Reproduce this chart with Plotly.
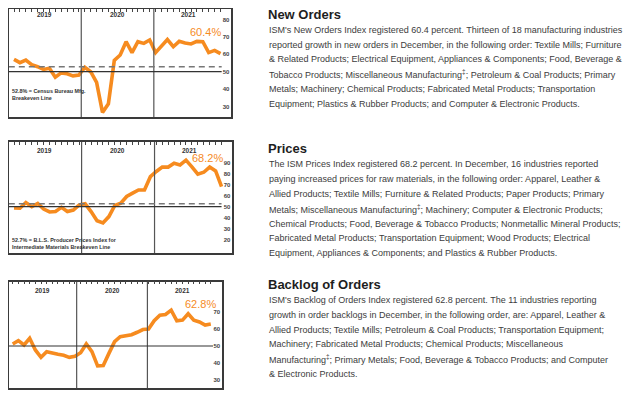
import plotly.graph_objects as go

# ---------------- data ----------------
months = list(range(36))  # Jan 2019 .. Dec 2021
years = ["2019", "2020", "2021"]

new_orders = [57.1, 55.2, 56.7, 54.0, 52.9, 51.3, 52.0, 46.8, 49.3, 48.8, 47.6, 48.1,
              52.5, 50.0, 43.8, 26.5, 31.5, 56.5, 59.6, 67.3, 61.0, 67.3, 66.3, 68.3,
              61.0, 64.4, 68.5, 64.4, 67.5, 66.5, 66.0, 67.5, 67.3, 61.0, 62.3, 60.4]

prices = [48.8, 48.6, 53.8, 50.0, 53.0, 47.9, 45.2, 45.7, 49.4, 45.6, 47.0, 51.6,
          52.6, 45.6, 37.2, 35.2, 41.0, 51.2, 53.2, 59.3, 62.3, 65.2, 65.2, 77.3,
          82.0, 86.0, 86.0, 89.5, 88.0, 92.3, 86.2, 79.5, 81.3, 86.0, 82.5, 68.2]

backlog = [51.2, 53.1, 50.6, 54.5, 47.7, 43.4, 46.7, 45.7, 45.2, 44.6, 43.4, 44.0,
           46.1, 51.2, 46.7, 38.4, 38.6, 45.7, 52.5, 55.4, 56.0, 56.6, 58.0, 59.6,
           59.9, 64.8, 68.0, 68.4, 70.9, 64.7, 65.1, 68.8, 65.1, 64.0, 62.2, 62.8]

last_labels = ["60.4%", "68.2%", "62.8%"]
breakeven = [52.8, 52.7, None]
breakeven_notes = ["52.8% = Census Bureau Mfg.<br>Breakeven Line",
                   "52.7% = B.L.S. Producer Prices Index for<br>Intermediate Materials Breakeven Line",
                   None]
yticks = [[30, 40, 50, 60, 70, 80],
          [20, 30, 40, 50, 60, 70, 80, 90],
          [30, 40, 50, 60, 70]]

headings = ["New Orders", "Prices", "Backlog of Orders"]
body_lines = [
    ["ISM's New Orders Index registered 60.4 percent. Thirteen of 18 manufacturing industries",
     "reported growth in new orders in December, in the following order: Textile Mills; Furniture",
     "& Related Products; Electrical Equipment, Appliances & Components; Food, Beverage &",
     "Tobacco Products; Miscellaneous Manufacturing<sup>‡</sup>; Petroleum & Coal Products; Primary",
     "Metals; Machinery; Chemical Products; Fabricated Metal Products; Transportation",
     "Equipment; Plastics & Rubber Products; and Computer & Electronic Products."],
    ["The ISM Prices Index registered 68.2 percent. In December, 16 industries reported",
     "paying increased prices for raw materials, in the following order: Apparel, Leather &",
     "Allied Products; Textile Mills; Furniture & Related Products; Paper Products; Primary",
     "Metals; Miscellaneous Manufacturing<sup>‡</sup>; Machinery; Computer & Electronic Products;",
     "Chemical Products; Food, Beverage & Tobacco Products; Nonmetallic Mineral Products;",
     "Fabricated Metal Products; Transportation Equipment; Wood Products; Electrical",
     "Equipment, Appliances & Components; and Plastics & Rubber Products."],
    ["ISM's Backlog of Orders Index registered 62.8 percent. The 11 industries reporting",
     "growth in order backlogs in December, in the following order, are: Apparel, Leather &",
     "Allied Products; Textile Mills; Petroleum & Coal Products; Transportation Equipment;",
     "Machinery; Fabricated Metal Products; Chemical Products; Miscellaneous",
     "Manufacturing<sup>‡</sup>; Primary Metals; Food, Beverage & Tobacco Products; and Computer",
     "& Electronic Products."],
]

# ---------------- styling / layout ----------------
# the page body keeps an 8px margin, so the figure is drawn 8px smaller and
# every target window-pixel position is shifted by that offset
OFF = 8
W, H = 631 - OFF, 399 - OFF
ORANGE = "#F68B1F"
BOX = "#3a3a3a"
SANS = "Liberation Sans, Arial, Helvetica, sans-serif"
EDGE = OFF + 0.8  # nearest drawable window pixel


def fx(px):
    return (px - OFF) / W


def fy(py):
    return 1 - (py - OFF) / H


# chart geometry in window pixels: box (left, right, top, bottom),
# x scale (pixel of first month, pixels per month), y scale (pixel of 50, pixels per unit)
panels = [
    dict(box=(8, 231, 6, 117), xs=(14, 5.9), ys=(71.7, 1.735), dividers=(11.4, 23.7),
         line_end=35.2, lab_shift=(1.5, 21.6), note=(10, 94.2), year_y=14,
         year_x=(5.2, 17.5, 29.5)),
    dict(box=(8, 232, 142, 253), xs=(14, 5.93), ys=(206.7, 1.1), dividers=(11.4, 23.7),
         line_end=35.0, lab_shift=(2.8, 28.4), note=(10, 243), year_y=150,
         year_x=(5.2, 17.5, 29.6)),
    dict(box=(6.7, 221.7, 281.7, 388.3), xs=(12.7, 5.66), ys=(346, 1.715), dividers=(11.3, 23.8),
         line_end=35.4, lab_shift=(6.0, 20.5), note=None, year_y=290,
         year_x=(5.2, 17.7, 30.0)),
]
series = [new_orders, prices, backlog]

fig = go.Figure()
annotations = []
shapes = []

for k, (p, vals) in enumerate(zip(panels, series)):
    n = "" if k == 0 else str(k + 1)
    xa, ya = "x" + n, "y" + n
    l, r, t, b = p["box"]
    l, t = max(l, EDGE), max(t, EDGE)
    x0px, dpx = p["xs"]
    y50, upx = p["ys"]
    xr = [(l - x0px) / dpx, (r - x0px) / dpx]
    yr = [50 - (b - y50) / upx, 50 + (y50 - t) / upx]
    fig.add_trace(go.Scatter(x=months, y=vals, mode="lines", xaxis=xa, yaxis=ya,
                             line=dict(color=ORANGE, width=3.6), hoverinfo="skip"))
    fig.update_layout(**{
        "xaxis" + n: dict(domain=[fx(l), fx(r)], range=xr, anchor=ya, side="top",
                          showline=True, mirror=True, linecolor=BOX, linewidth=1.5,
                          ticks="inside", ticklen=3, tickwidth=1, tickcolor="#444",
                          tickvals=months, showticklabels=False, showgrid=False, zeroline=False,
                          fixedrange=True),
        "yaxis" + n: dict(domain=[fy(b), fy(t)], range=yr, anchor=xa,
                          side="right", ticklabelposition="inside", tickvals=yticks[k],
                          ticks="", showline=True, mirror=True, linecolor=BOX, linewidth=1.5,
                          showgrid=False, zeroline=False, fixedrange=True,
                          tickfont=dict(family=SANS, size=6, color="#444", weight="bold")),
    })
    # year dividers
    for d in p["dividers"]:
        shapes.append(dict(type="line", xref=xa, yref=ya + " domain", x0=d, x1=d, y0=0, y1=1,
                           line=dict(color="#555", width=1.2)))
    # 50 line
    shapes.append(dict(type="line", xref=xa, yref=ya, x0=xr[0], x1=p["line_end"],
                       y0=50, y1=50, line=dict(color="#333", width=1.2)))
    if breakeven[k] is not None:
        shapes.append(dict(type="line", xref=xa, yref=ya, x0=xr[0], x1=p["line_end"],
                           y0=breakeven[k], y1=breakeven[k],
                           line=dict(color="#777", width=1.5, dash="6px,4px")))
        annotations.append(dict(xref="paper", yref="paper", x=fx(p["note"][0]),
                                y=fy(p["note"][1]), xanchor="left", yanchor="middle",
                                align="left", showarrow=False, text=breakeven_notes[k],
                                font=dict(family=SANS, size=5.4, color="#333", weight="bold")))
    # year labels
    for yx, ytxt in zip(p["year_x"], years):
        annotations.append(dict(xref=xa, yref="paper", x=yx, y=fy(p["year_y"]),
                                xanchor="center", yanchor="middle", showarrow=False, text=ytxt,
                                font=dict(family=SANS, size=6.5, color="#333", weight="bold")))
    # last value label
    annotations.append(dict(xref=xa, yref=ya, x=months[-1], y=vals[-1],
                            xshift=p["lab_shift"][0], yshift=p["lab_shift"][1],
                            xanchor="right", yanchor="middle", showarrow=False,
                            text=last_labels[k], borderpad=0,
                            font=dict(family=SANS, size=11, color=ORANGE)))

# text blocks on the right
TX = 267
heading_y = [14, 148.3, 284]
first_line_y = [30, 164.3, 300]
line_gap = [14.7, 14.8, 14.8]
for k in range(3):
    annotations.append(dict(xref="paper", yref="paper", x=fx(TX), y=fy(heading_y[k]),
                            xanchor="left", yanchor="middle", showarrow=False, borderpad=0,
                            text="<b>" + headings[k] + "</b>",
                            font=dict(family=SANS, size=13, color="#1e1e1e")))
    for j, ln in enumerate(body_lines[k]):
        yy = first_line_y[k] + j * line_gap[k]
        annotations.append(dict(xref="paper", yref="paper", x=fx(TX), y=fy(yy),
                                xanchor="left", yanchor="middle", showarrow=False, text=ln,
                                font=dict(family=SANS, size=9, color="#3c3c3c")))

fig.update_layout(width=W, height=H, margin=dict(l=0, r=0, t=0, b=0),
                  paper_bgcolor="white", plot_bgcolor="white", showlegend=False,
                  annotations=annotations, shapes=shapes)

fig.write_html("out.html")
